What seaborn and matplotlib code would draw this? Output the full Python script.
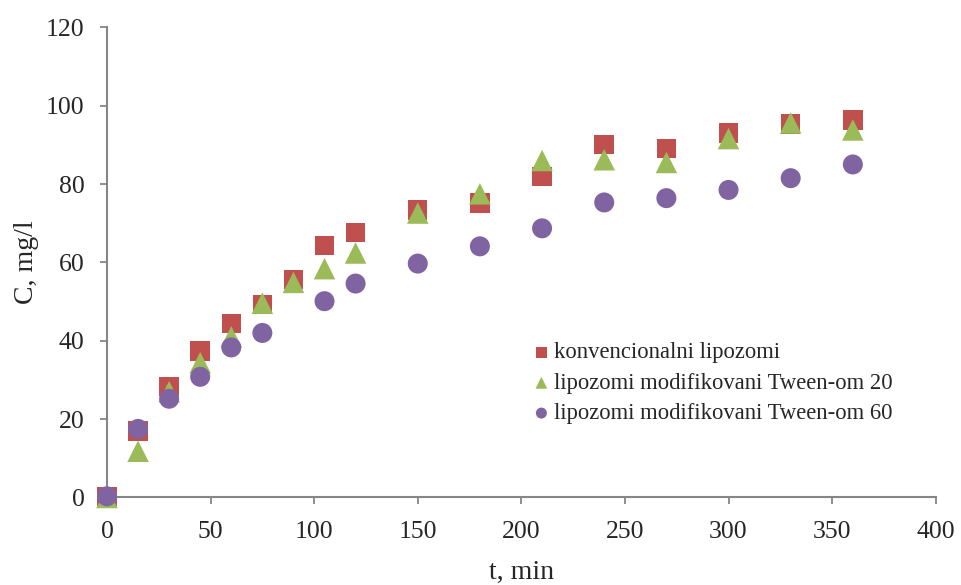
import matplotlib
matplotlib.use("Agg")
import matplotlib.pyplot as plt
import seaborn as sns
import pandas as pd
import numpy as np

# ---- data ----
t_conv = [0, 15, 30, 45, 60, 75, 90, 105, 120, 150, 180, 210, 240, 270, 300, 330, 360]
c_conv = [0.3, 17.0, 28.3, 37.4, 44.4, 49.2, 55.6, 64.3, 67.6, 73.4, 75.2, 81.9, 90.1, 89.1, 93.0, 95.3, 96.3]

t_tw20 = [0, 15, 30, 45, 60, 75, 90, 105, 120, 150, 180, 210, 240, 270, 300, 330, 360]
c_tw20 = [0.0, 11.8, 27.0, 34.4, 41.0, 49.6, 54.9, 58.4, 62.4, 72.6, 77.5, 86.0, 86.2, 85.5, 91.6, 95.6, 93.8]

t_tw60 = [0, 15, 30, 45, 60, 75, 105, 120, 150, 180, 210, 240, 270, 300, 330, 360]
c_tw60 = [0.3, 17.5, 25.2, 30.8, 38.3, 42.0, 50.1, 54.6, 59.7, 64.1, 68.7, 75.3, 76.4, 78.5, 81.5, 85.0]

series_names = ["konvencionalni lipozomi",
                "lipozomi modifikovani Tween-om 20",
                "lipozomi modifikovani Tween-om 60"]

x_ticks = [0, 50, 100, 150, 200, 250, 300, 350, 400]
y_ticks = [0, 20, 40, 60, 80, 100, 120]

colors = ["#C0504D", "#9BBB59", "#8064A2"]
markers = ["s", "^", "o"]
msizes = [14.0, 15.5, 14.4]

frames = []
for name, t, c in zip(series_names, [t_conv, t_tw20, t_tw60], [c_conv, c_tw20, c_tw60]):
    frames.append(pd.DataFrame({"t": t, "C": c, "serija": name}))
df = pd.concat(frames, ignore_index=True)

sns.set_style("white")
plt.rcParams["font.family"] = ["Liberation Serif", "DejaVu Serif"]

fig = plt.figure(figsize=(9.61, 5.85), dpi=100)
ax = fig.add_axes([0.1113, 0.1496, 0.8624, 0.8037])

for name, col, mk, ms in zip(series_names, colors, markers, msizes):
    sub = df[df["serija"] == name]
    sns.scatterplot(data=sub, x="t", y="C", ax=ax, color=col, marker=mk,
                    s=ms ** 2, edgecolor="none", linewidth=0, label=name,
                    clip_on=False, zorder=5)

ax.set_xlim(0, 400)
ax.set_ylim(0, 120)
ax.set_xticks(x_ticks)
ax.set_yticks(y_ticks)
ax.tick_params(axis="both", direction="out", length=5, width=1.3,
               color="#868686", labelsize=18.5, bottom=True, left=True)
ax.tick_params(axis="y", pad=11)
ax.tick_params(axis="x", pad=12)
for s in ["top", "right"]:
    ax.spines[s].set_visible(False)
for s in ["left", "bottom"]:
    ax.spines[s].set_color("#868686")
    ax.spines[s].set_linewidth(1.5)

ax.set_xlabel("t, min", fontsize=20, labelpad=12)
ax.set_ylabel("C, mg/l", fontsize=20, labelpad=5)

leg = ax.legend(loc="upper left", bbox_to_anchor=(0.4996, 0.349), frameon=False,
                fontsize=16.3, handlelength=1.0, handletextpad=0.05,
                labelspacing=0.41, borderaxespad=0, borderpad=0.4,
                markerscale=0.55)

fig.savefig("out.png", dpi=100)
